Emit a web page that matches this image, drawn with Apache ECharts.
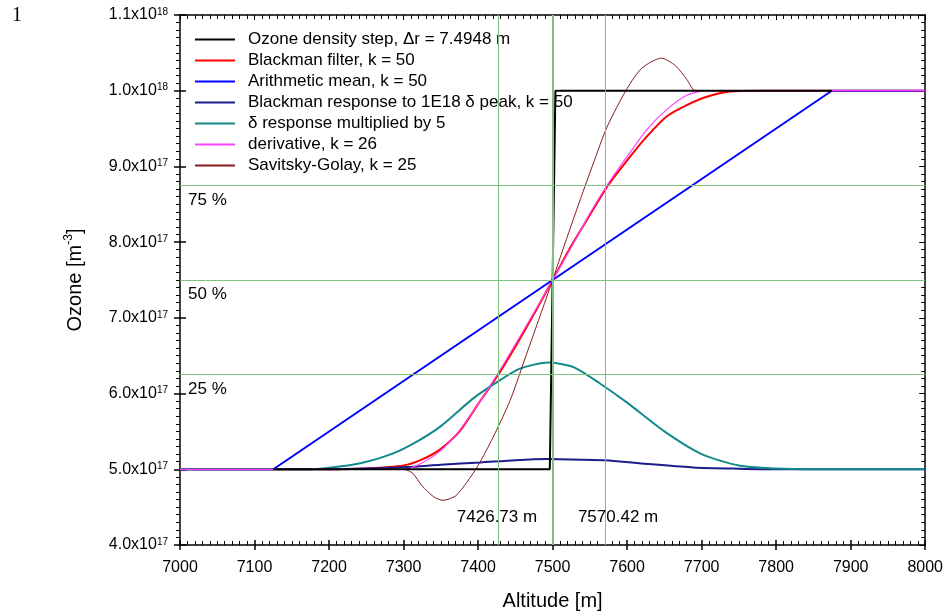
<!DOCTYPE html>
<html><head><meta charset="utf-8">
<script src="https://cdn.jsdelivr.net/npm/echarts@6/dist/echarts.min.js"></script>
<style>html,body{margin:0;padding:0;background:#fff}#c{width:946px;height:616px}</style>
</head><body><div id="c"></div>
<script>
// values are in units of 1e17 m^-3 (UNIT), altitude in m
const UNIT = 1e17;
const legendNames = [
  'Ozone density step, \u0394r = 7.4948 m',
  'Blackman filter, k = 50',
  'Arithmetic mean, k = 50',
  'Blackman response to 1E18 \u03b4 peak, k = 50',
  '\u03b4 response multiplied by 5',
  'derivative, k = 26',
  'Savitsky-Golay, k = 25'
];
const stepX = [7125, 7496.25, 7503.75, 7875];
const stepY = [5, 5, 10, 10];
const redX = [7000, 7200, 7250, 7300, 7325, 7350, 7375, 7400, 7427, 7450, 7475, 7500, 7525, 7550, 7575, 7600, 7626, 7653, 7680, 7707, 7738, 7780, 8000];
const redY = [5, 5, 5.01, 5.05, 5.13, 5.27, 5.5, 5.86, 6.25, 6.62, 7.05, 7.5, 7.95, 8.36, 8.76, 9.08, 9.39, 9.66, 9.81, 9.92, 9.99, 10, 10];
const meanX = [7000, 7125.26, 7874.74, 8000];
const meanY = [5, 5, 10, 10];
const navyX = [7000, 7200, 7250, 7304, 7350, 7403, 7450, 7492, 7540, 7582, 7630, 7689, 7750, 7800, 8000];
const navyY = [5, 5, 5.01, 5.03, 5.06, 5.09, 5.12, 5.135, 5.125, 5.11, 5.07, 5.025, 5.008, 5, 5];
const tealX = [7000, 7170, 7200, 7242, 7286, 7322, 7350, 7394, 7430, 7456, 7494, 7528, 7564, 7600, 7650, 7700, 7750, 7800, 7850, 8000];
const tealY = [5, 5, 5.02, 5.08, 5.21, 5.39, 5.57, 5.94, 6.18, 6.33, 6.41, 6.35, 6.13, 5.88, 5.5, 5.2, 5.05, 5.01, 5, 5];
const pinkX = [7000, 7300, 7322, 7349, 7374, 7400, 7427, 7450, 7475, 7500, 7525, 7550, 7575, 7600, 7626, 7653, 7680, 7707, 8000];
const pinkY = [5, 5, 5.07, 5.24, 5.5, 5.86, 6.27, 6.65, 7.07, 7.5, 7.93, 8.38, 8.78, 9.13, 9.48, 9.75, 9.94, 10, 10];
const sgX = [7000, 7300, 7312, 7325, 7340, 7353, 7370, 7385, 7400, 7420, 7443, 7465, 7483, 7500, 7513, 7537, 7555, 7573, 7600, 7620, 7646, 7665, 7680, 7692, 8000];
const sgY = [5, 5, 4.95, 4.78, 4.64, 4.59, 4.65, 4.83, 5.05, 5.42, 5.91, 6.52, 7.02, 7.5, 7.88, 8.56, 9.05, 9.52, 10.03, 10.3, 10.43, 10.33, 10.15, 10.0, 10];
const guideX = [7426.73, 7500, 7570.42];
const guideY = [6.25, 7.5, 8.75];
const pctLabels = ['25 %', '50 %', '75 %'];
const altLabels = ['7426.73 m', '7570.42 m'];
const altLabelY = 4.37;
const xMin = 7000, xMax = 8000, xStep = 100;
const yMin = 4, yMax = 11, yStep = 1;

const FONT = 'Liberation Sans, Arial, sans-serif';
const pts = (xs, ys) => xs.map((x, i) => [x, ys[i] * UNIT]);

function yLabel(v) {
  const e = v >= 9.5e17 ? 18 : 17;
  const m = (v / Math.pow(10, e)).toFixed(1);
  return '{b|' + m + 'x10}{s|' + e + '}';
}

const chart = echarts.init(document.getElementById('c'), null, {renderer: 'canvas'});
const lineBase = {type: 'line', symbol: 'none', showSymbol: false, animation: false, silent: true};

const axisLineStyle = {color: '#000', width: 1.5};
const option = {
  backgroundColor: '#fff',
  animation: false,
  grid: {left: 180, right: 20, top: 15, bottom: 69},
  legend: {
    data: legendNames,
    orient: 'vertical', left: 190, top: 24,
    icon: 'rect',
    itemWidth: 40, itemHeight: 2, itemGap: 0,
    textStyle: {fontFamily: FONT, fontSize: 17, color: '#000', lineHeight: 21, padding: [0, 0, 0, 8]},
    selectedMode: false
  },
  graphic: [{type: 'text', left: 12, top: 6, style: {text: '1', fontFamily: 'Liberation Serif, serif', fontSize: 20, fill: '#000'}}],
  xAxis: [
    {type: 'value', position: 'bottom', min: xMin, max: xMax, interval: xStep,
     axisLine: {show: true, lineStyle: axisLineStyle},
     axisTick: {show: true, inside: true, length: 5, lineStyle: {color: '#000', width: 1.5}},
     minorTick: {show: true, splitNumber: 10, length: 4, lineStyle: {color: '#000'}},
     axisLabel: {fontFamily: FONT, fontSize: 16, color: '#000', margin: 15, formatter: v => String(v)},
     splitLine: {show: false},
     name: 'Altitude [m]', nameLocation: 'middle', nameGap: 46,
     nameTextStyle: {fontFamily: FONT, fontSize: 20, color: '#000'}},
    {type: 'value', position: 'bottom', min: xMin, max: xMax, interval: xStep,
     axisLine: {show: false}, axisTick: {show: true, inside: false, length: 5, lineStyle: {color: '#000', width: 1.5}},
     axisLabel: {show: false}, splitLine: {show: false}},
    {type: 'value', position: 'top', min: xMin, max: xMax, interval: xStep,
     axisLine: {show: true, lineStyle: axisLineStyle},
     axisTick: {show: true, inside: true, length: 5, lineStyle: {color: '#000'}},
     minorTick: {show: true, splitNumber: 10, length: 4, lineStyle: {color: '#000'}},
     axisLabel: {show: false}, splitLine: {show: false}}
  ],
  yAxis: [
    {type: 'value', position: 'left', min: yMin * UNIT, max: yMax * UNIT, interval: yStep * UNIT,
     axisLine: {show: true, lineStyle: axisLineStyle},
     axisTick: {show: true, inside: false, length: 6, lineStyle: {color: '#000', width: 1.5}},
     minorTick: {show: true, splitNumber: 10, length: 4, lineStyle: {color: '#000'}},
     axisLabel: {formatter: yLabel, margin: 12,
       rich: {b: {fontFamily: FONT, fontSize: 16, color: '#000', lineHeight: 16, verticalAlign: 'bottom'},
              s: {fontFamily: FONT, fontSize: 10, color: '#000', lineHeight: 10, verticalAlign: 'top', padding: [0, 0, 10, 0]}}},
     splitLine: {show: false},
     name: '{a|Ozone [m}{s|-3}{a|]}', nameLocation: 'middle', nameGap: 93, nameRotate: 90,
     nameTextStyle: {rich: {a: {fontFamily: FONT, fontSize: 20, color: '#000'},
                            s: {fontFamily: FONT, fontSize: 12, color: '#000', padding: [0, 0, 12, 0]}}}},
    {type: 'value', position: 'left', min: yMin * UNIT, max: yMax * UNIT, interval: yStep * UNIT,
     axisLine: {show: false}, axisTick: {show: true, inside: true, length: 6, lineStyle: {color: '#000', width: 1.5}},
     axisLabel: {show: false}, splitLine: {show: false}},
    {type: 'value', position: 'right', min: yMin * UNIT, max: yMax * UNIT, interval: yStep * UNIT,
     axisLine: {show: true, lineStyle: axisLineStyle},
     axisTick: {show: true, inside: true, length: 6, lineStyle: {color: '#000'}},
     minorTick: {show: true, splitNumber: 10, length: 4, lineStyle: {color: '#000'}},
     axisLabel: {show: false}, splitLine: {show: false}}
  ],
  series: [
    Object.assign({}, lineBase, {name: '__guides', data: [], z: 1,
      markLine: {silent: true, symbol: 'none', animation: false, label: {show: false},
        lineStyle: {color: '#7cc47c', width: 1, type: 'solid'},
        data: guideX.map((x, i) => ({xAxis: x, lineStyle: {width: i === 1 ? 2 : 1}}))
          .concat(guideY.map(y => ({yAxis: y * UNIT})))}}),
    Object.assign({}, lineBase, {name: legendNames[1], data: pts(redX, redY), smooth: 0.25, z: 3,
      color: '#ff0000', lineStyle: {color: '#ff0000', width: 2}}),
    Object.assign({}, lineBase, {name: legendNames[2], data: pts(meanX, meanY), z: 3,
      color: '#0000ff', lineStyle: {color: '#0000ff', width: 2}}),
    Object.assign({}, lineBase, {name: legendNames[3], data: pts(navyX, navyY), smooth: 0.25, z: 3,
      color: '#1c1c8c', lineStyle: {color: '#1c1c8c', width: 2}}),
    Object.assign({}, lineBase, {name: legendNames[4], data: pts(tealX, tealY), smooth: 0.25, z: 3,
      color: '#138a8a', lineStyle: {color: '#138a8a', width: 2}}),
    Object.assign({}, lineBase, {name: legendNames[6], data: pts(sgX, sgY), smooth: 0.25, z: 3,
      color: '#8b1a1a', lineStyle: {color: '#8b1a1a', width: 1}}),
    Object.assign({}, lineBase, {name: legendNames[5], data: pts(pinkX, pinkY), smooth: 0.25, z: 3,
      color: '#ff40ff', lineStyle: {color: '#ff40ff', width: 1.2}}),
    Object.assign({}, lineBase, {name: legendNames[0], data: pts(stepX, stepY), z: 4,
      color: '#000000', lineStyle: {color: '#000000', width: 2}}),
    {type: 'scatter', name: '__pct', symbolSize: 0, silent: true, animation: false, z: 5,
     itemStyle: {opacity: 1},
     data: guideY.map((y, i) => ({value: [xMin, y * UNIT], name: pctLabels[i]})),
     label: {show: true, formatter: '{b}', position: [8, 6], align: 'left', verticalAlign: 'top', opacity: 1,
       fontFamily: FONT, fontSize: 17, color: '#000', textBorderWidth: 0}},
    {type: 'scatter', name: '__alt', symbolSize: 0, silent: true, animation: false, z: 5,
     itemStyle: {opacity: 1},
     data: [{value: [guideX[0], altLabelY * UNIT], name: altLabels[0], label: {offset: [-1, 0]}},
            {value: [guideX[2], altLabelY * UNIT], name: altLabels[1], label: {offset: [13, 0]}}],
     label: {show: true, formatter: '{b}', position: 'inside', align: 'center', verticalAlign: 'middle', opacity: 1,
       fontFamily: FONT, fontSize: 17, color: '#000', textBorderWidth: 0}}
  ]
};
chart.setOption(option);
</script></body></html>
